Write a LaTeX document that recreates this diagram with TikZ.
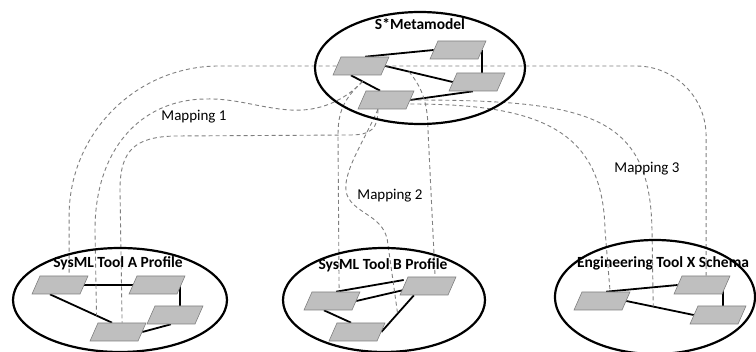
\documentclass[tikz,border=0pt]{standalone}
\usepackage{fontspec}
\setmainfont{Carlito}
\usetikzlibrary{shapes.geometric,backgrounds}
\definecolor{elemgray}{HTML}{BFBFBF}
\definecolor{edgegray}{HTML}{808080}
\definecolor{mapgray}{HTML}{7F7F7F}

\begin{document}
\begin{tikzpicture}[x=1pt,y=-1pt,
  modelarea/.style={draw,ellipse,line width=2.2pt,inner sep=0pt},
  areatitle/.style={font=\fontsize{15.5}{17}\selectfont\bfseries},
  elem/.style={rectangle,xslant=0.44,minimum width=48pt,minimum height=18pt,
    inner sep=0pt,fill=elemgray,draw=edgegray,line width=0.6pt},
  relline/.style={line width=1.8pt},
  maplink/.style={draw=mapgray,line width=0.9pt,dash pattern=on 4pt off 3pt},
  maplabel/.style={font=\fontsize{15}{17}\selectfont}]
\useasboundingbox (0,0) rectangle (756,352);

% the four models
\node[modelarea,minimum width=210pt,minimum height=112pt] (meta) at (420,68) {};
\node[modelarea,minimum width=214pt,minimum height=104pt] (toolA) at (120,300) {};
\node[modelarea,minimum width=202pt,minimum height=104pt] (toolB) at (384,300) {};
\node[modelarea,minimum width=200pt,minimum height=114pt] (toolX) at (655,297) {};
\node[areatitle] (metaT) at (420,24) {S*Metamodel};
\node[areatitle] (toolAT) at (118,263) {SysML Tool A Profile};
\node[areatitle] (toolBT) at (383,265) {SysML Tool B Profile};
\node[areatitle] (toolXT) at (663,263) {Engineering Tool X Schema};

% elements
\node[elem] (P1) at (361,66) {};
\node[elem] (P2) at (458,50) {};
\node[elem] (P3) at (477,82) {};
\node[elem] (P4) at (386,100) {};
\node[elem] (A1) at (60,285) {};
\node[elem] (A2) at (157,285) {};
\node[elem] (A3) at (175,315) {};
\node[elem] (A4) at (118,332) {};
\node[elem] (B1) at (332,301) {};
\node[elem] (B2) at (428,286) {};
\node[elem] (B3) at (357,332) {};
\node[elem] (X1) at (602,301) {};
\node[elem] (X2) at (702,285) {};
\node[elem] (X3) at (718,315) {};

\begin{scope}[on background layer]
% relations
\draw[relline] (P1.north) -- (P2.west);
\draw[relline] (P1.east) -- coordinate[pos=.35] (e13) (P3.west);
\draw[relline] ([xshift=5pt]P3.center) -- ([xshift=5pt]P3.center |- P2.center);
\draw[relline] ([xshift=-6pt]P1.south) -- coordinate[pos=.4] (e14) ([xshift=-10pt]P4.north);
\draw[relline] (P4.east) -- (P3.south);
\draw[relline] (A1.east) -- (A2.west);
\draw[relline] ([xshift=5pt]A3.center) -- ([xshift=5pt]A3.center |- A2.center);
\draw[relline] ([xshift=-6pt]A1.south) -- coordinate[pos=.75] (a14) ([xshift=-10pt]A4.north);
\draw[relline] (A4.east) -- (A3.south);
\draw[relline] (B1.north) -- ([yshift=6pt]B2.west);
\draw[relline] (B1.east) -- ([yshift=-4pt]B2.west);
\draw[relline] ([xshift=-4pt]B1.south) -- ([xshift=-10pt]B3.north);
\draw[relline] (B3.east) -- coordinate[pos=.5] (b23) ([xshift=-10pt]B2.south);
\draw[relline] (X1.north) -- (X2.west);
\draw[relline] (X1.east) -- coordinate[pos=.4] (x13) (X3.west);
\draw[relline] ([xshift=5pt]X3.center) -- ([xshift=5pt]X3.center |- X2.center);

% mappings
\draw[maplink,rounded corners=150pt] (P1) -| ([xshift=5pt]A1.north);
\draw[maplink] (e14) .. controls (345,100) and (320,112) .. (290,110)
  .. controls (260,108) and (235,98) .. (205,99)
  .. controls (140,100) and (95,150) .. (95,230) -- (a14);
\draw[maplink] ([xshift=-4pt]P4.south) .. controls (378,128) and (372,135) .. (350,135)
  -- (175,136) .. controls (135,137) and (120,150) .. (120,190) -- (A4.north);
\draw[maplink] (e14) .. controls (345,98) and (338,110) .. (338,135) -- ([xshift=3pt]B1.north);
\draw[maplink] ([xshift=-4pt]P4.south) .. controls (365,140) and (340,175) .. (347,195)
  .. controls (355,215) and (386,215) .. (388,245) -- (b23);
\draw[maplink] (e13) .. controls (420,85) and (428,100) .. (428,130) -- ([xshift=3pt]B2.north);
\draw[maplink,rounded corners=70pt] (P1) -| (X2.north);
\draw[maplink] (P4.east) .. controls (590,100) and (650,115) .. (652,230) -- (x13);
\draw[maplink] ([yshift=-4pt]P4.east) .. controls (540,104) and (603,130) .. (605,230)
  -- ([xshift=4pt]X1.north);
\end{scope}

\node[maplabel] (map1) at (194,117) {Mapping 1};
\node[maplabel] (map2) at (390,196) {Mapping 2};
\node[maplabel] (map3) at (647,169) {Mapping 3};
\end{tikzpicture}
\end{document}
